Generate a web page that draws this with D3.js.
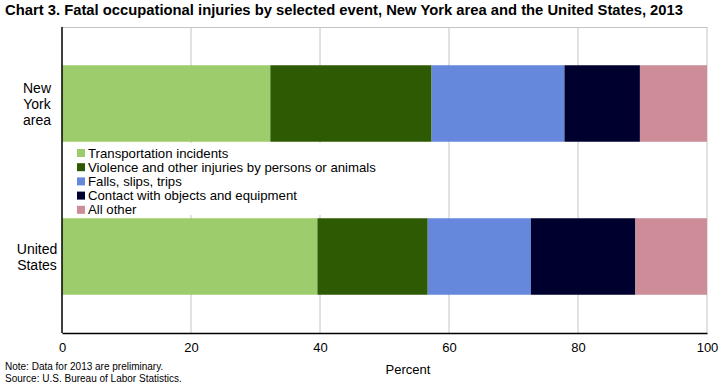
<!DOCTYPE html>
<html>
<head>
<meta charset="utf-8">
<script src="https://cdn.jsdelivr.net/npm/d3@7"></script>
<style>
  body { margin: 0; background: #fff; }
  svg { display: block; }
</style>
</head>
<body>
<svg id="chart" width="720" height="385"></svg>
<script>
(function() {
    // categories (top to bottom) and their display lines
    const areas = ["New York area", "United States"];
    const areaLines = [["New", "York", "area"], ["United", "States"]];

    // events, in stack order
    const events = [
        "Transportation incidents",
        "Violence and other injuries by persons or animals",
        "Falls, slips, trips",
        "Contact with objects and equipment",
        "All other"
    ];
    const eventColors = ["#9ccc6c", "#2e5a04", "#6688dc", "#00002e", "#cc8c98"];

    // percent of fatal injuries, per event
    const newYorkValues = [32.3, 25.0, 20.6, 11.7, 10.4];
    const usValues = [39.6, 17.1, 16.0, 16.2, 11.1];

    const xTicks = [0, 20, 40, 60, 80, 100];

    const rows = [newYorkValues, usValues].map((vals, i) => {
        const r = { area: areas[i] };
        events.forEach((e, j) => r[e] = vals[j]);
        return r;
    });

    const svg = d3.select("#chart");
    const margin = { top: 27, right: 13, bottom: 52, left: 62 };
    const width = 720, height = 385;
    const narrow = "'Liberation Sans Narrow', 'Arial Narrow', 'Liberation Sans', Arial, sans-serif";
    const regular = "'Liberation Sans', Arial, sans-serif";

    const x = d3.scaleLinear().domain([0, 100]).range([margin.left, width - margin.right]);
    const y = d3.scaleBand().domain(areas)
        .range([margin.top, height - margin.bottom])
        .paddingInner(0.5).paddingOuter(0.25);

    // title
    svg.append("text")
        .attr("x", 5).attr("y", 15)
        .attr("font-family", narrow)
        .attr("font-weight", "bold")
        .attr("font-size", 15)
        .attr("textLength", 678)
        .attr("lengthAdjust", "spacingAndGlyphs")
        .attr("fill", "#000")
        .text("Chart 3. Fatal occupational injuries by selected event, New York area and the United States, 2013");

    // gridlines
    svg.append("g")
        .selectAll("line")
        .data(xTicks.slice(1))
        .join("line")
        .attr("x1", d => x(d)).attr("x2", d => x(d))
        .attr("y1", margin.top).attr("y2", height - margin.bottom)
        .attr("stroke", "#c4c4c4")
        .attr("stroke-width", 1);

    // top border
    svg.append("line")
        .attr("x1", margin.left).attr("x2", x(100))
        .attr("y1", margin.top + 0.5).attr("y2", margin.top + 0.5)
        .attr("stroke", "#c4c4c4");

    // stacked bars
    const stacked = d3.stack().keys(events)(rows);
    svg.append("g")
        .selectAll("g")
        .data(stacked)
        .join("g")
        .attr("fill", (d, i) => eventColors[i])
        .selectAll("rect")
        .data(d => d)
        .join("rect")
        .attr("x", d => x(d[0]))
        .attr("width", d => x(d[1]) - x(d[0]))
        .attr("y", d => y(d.data.area))
        .attr("height", y.bandwidth());

    // legend (white box over the gridlines)
    const legend = svg.append("g").attr("transform", "translate(77,145)");
    legend.append("rect")
        .attr("x", -14).attr("y", -2)
        .attr("width", 262).attr("height", 72)
        .attr("fill", "#fff");
    const item = legend.selectAll("g.item")
        .data(events)
        .join("g")
        .attr("class", "item")
        .attr("transform", (d, i) => `translate(0,${i * 14.2})`);
    item.append("rect")
        .attr("x", 0).attr("y", 4)
        .attr("width", 8).attr("height", 8)
        .attr("fill", (d, i) => eventColors[i]);
    item.append("text")
        .attr("x", 11).attr("y", 12.5)
        .attr("font-family", regular)
        .attr("font-size", 13.2)
        .attr("fill", "#000")
        .text(d => d);

    // y labels
    const yl = svg.append("g")
        .selectAll("text")
        .data(areas)
        .join("text")
        .attr("text-anchor", "middle")
        .attr("font-family", regular)
        .attr("font-size", 14)
        .attr("fill", "#000");
    yl.each(function(d, i) {
        const lines = areaLines[i];
        const cy = y(d) + y.bandwidth() / 2;
        const start = cy - (lines.length - 1) * 8;
        d3.select(this).selectAll("tspan")
            .data(lines)
            .join("tspan")
            .attr("x", 37)
            .attr("y", (l, k) => start + k * 16 + 5)
            .text(l => l);
    });

    // x axis
    const xAxis = svg.append("g")
        .attr("transform", `translate(0,${height - margin.bottom})`)
        .call(d3.axisBottom(x).tickValues(xTicks).tickSize(0).tickPadding(10));
    xAxis.select(".domain").attr("stroke", "#000").attr("stroke-width", 1.5);
    xAxis.selectAll("text")
        .attr("font-family", narrow)
        .attr("font-size", 13)
        .attr("fill", "#000");

    // y axis line
    svg.append("line")
        .attr("x1", margin.left).attr("x2", margin.left)
        .attr("y1", margin.top).attr("y2", height - margin.bottom)
        .attr("stroke", "#000").attr("stroke-width", 1.5);

    svg.append("text")
        .attr("x", 408).attr("y", 374)
        .attr("text-anchor", "middle")
        .attr("font-family", narrow)
        .attr("font-size", 13)
        .attr("fill", "#000")
        .text("Percent");

    // notes
    svg.append("text")
        .attr("x", 5).attr("y", 370)
        .attr("font-family", narrow)
        .attr("font-size", 10)
        .attr("fill", "#000")
        .text("Note: Data for 2013 are preliminary.");
    svg.append("text")
        .attr("x", 5).attr("y", 382)
        .attr("font-family", narrow)
        .attr("font-size", 10)
        .attr("fill", "#000")
        .text("Source: U.S. Bureau of Labor Statistics.");
})();
</script>
</body>
</html>
